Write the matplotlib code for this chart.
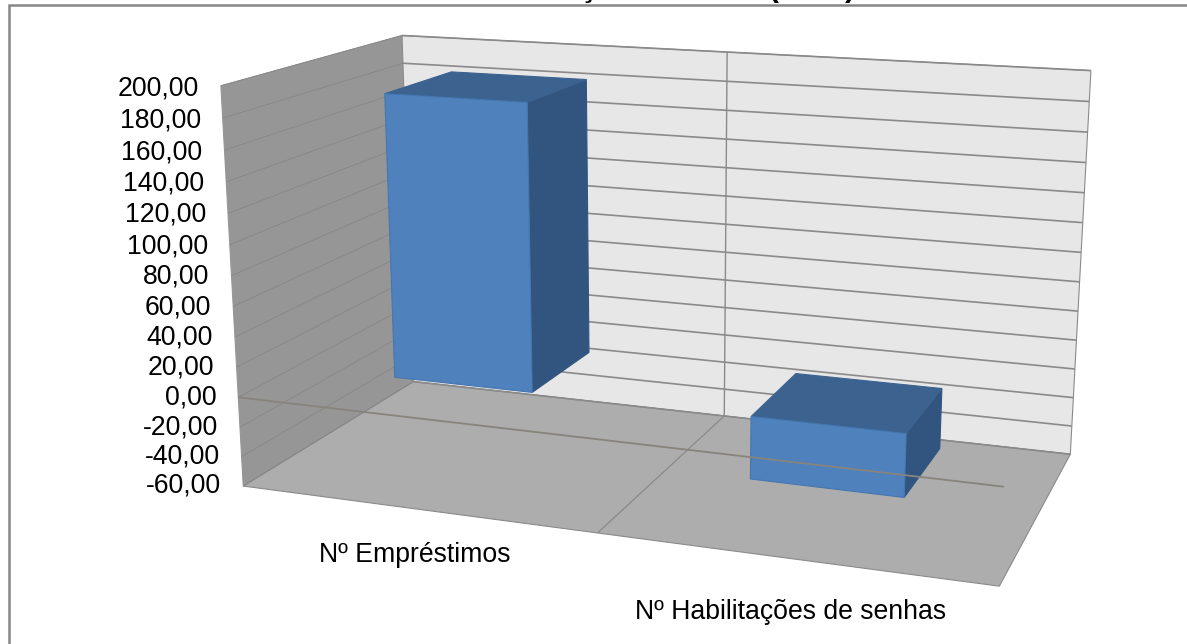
#!/usr/bin/env python3
# -*- coding: utf-8 -*-
"""Excel style 3D column chart, drawn through a fitted perspective projection."""

import numpy as np
import matplotlib
matplotlib.use("Agg")                     # headless backend
import matplotlib.pyplot as plt
from matplotlib.patches import Polygon

categories = ["Nº Empréstimos", "Nº Habilitações de senhas"]
values = [188.0, -41.0]
y_ticks = [200, 180, 160, 140, 120, 100, 80, 60, 40, 20, 0, -20, -40, -60]
y_min, y_max = -60, 200

WIDTH, HEIGHT = 1187, 644
BAR_FROM, BAR_TO = 0.3, 0.7               # 150% gap, across and in depth

# Reference box: corners (category pos, value, depth) and where they land on
# the canvas.  A 3x4 camera matrix is fitted to them, everything else is
# projected through it.
box_world = [(0, 200, 0), (0, 200, 1), (0, -60, 1), (0, -60, 0), (2, 200, 1),
             (2, -60, 1), (2, -60, 0), (1, 200, 1), (1, -60, 1)]
box_canvas = [(221, 86), (402, 35), (414, 382), (243, 486), (1091, 71),
              (1070.6, 454), (999.5, 586), (727, 52), (723.5, 416)]

GRID = "#8a8a8a"
WALL_SIDE = "#969696"
WALL_BACK = "#e7e7e7"
FLOOR = "#adadad"
BAR_FRONT = "#4f81bd"
BAR_TOP = "#3c6290"
BAR_SIDE = "#32557f"

plt.rcParams["font.family"] = ["Liberation Sans", "DejaVu Sans"]


def fit_camera(world, canvas):
    rows, rhs = [], []
    for (x, y, z), (u, v) in zip(world, canvas):
        y = y / 100
        rows.append([x, y, z, 1, 0, 0, 0, 0, -u * x, -u * y, -u * z])
        rows.append([0, 0, 0, 0, x, y, z, 1, -v * x, -v * y, -v * z])
        rhs += [u, v]
    p = np.linalg.lstsq(np.array(rows, float), np.array(rhs, float), rcond=None)[0]
    return np.append(p, 1).reshape(3, 4)


camera = fit_camera(box_world, box_canvas)


def proj(x, y, z):
    h = camera @ np.array([x, y / 100, z, 1.0])
    return h[:2] / h[2]


def face(ax, corners, color, edge=None, zorder=1):
    pts = [proj(*c) for c in corners]
    ax.add_patch(Polygon(pts, closed=True, facecolor=color,
                         edgecolor=edge or color, lw=0.8, zorder=zorder))


def segment(ax, a, b, color=GRID, lw=0.9, zorder=2):
    pa, pb = proj(*a), proj(*b)
    ax.plot([pa[0], pb[0]], [pa[1], pb[1]], color=color, lw=lw, zorder=zorder,
            solid_capstyle="butt")


def main():
    fig = plt.figure(figsize=(WIDTH / 100, HEIGHT / 100), dpi=100)
    ax = fig.add_axes([0, 0, 1, 1])
    ax.set_xlim(0, WIDTH)
    ax.set_ylim(HEIGHT, 0)
    ax.axis("off")

    n = len(categories)

    # walls and floor
    face(ax, [(0, y_min, 0), (0, y_max, 0), (0, y_max, 1), (0, y_min, 1)], WALL_SIDE)
    face(ax, [(0, y_min, 1), (0, y_max, 1), (n, y_max, 1), (n, y_min, 1)], WALL_BACK, GRID)
    face(ax, [(0, y_min, 0), (0, y_min, 1), (n, y_min, 1), (n, y_min, 0)], FLOOR, GRID, zorder=1.5)

    # gridlines on both walls, category divider on back wall and floor
    for t in y_ticks:
        segment(ax, (0, t, 0), (0, t, 1), color="#868686", lw=0.6)
        segment(ax, (0, t, 1), (n, t, 1), lw=1.2)
    for i in range(1, n):
        segment(ax, (i, y_min, 1), (i, y_max, 1), lw=1.0)
        segment(ax, (i, y_min, 0), (i, y_min, 1))

    # columns
    for i, v in enumerate(values):
        x0, x1 = i + BAR_FROM, i + BAR_TO
        z0, z1 = BAR_FROM, BAR_TO
        lo, hi = min(0, v), max(0, v)
        face(ax, [(x1, lo, z0), (x1, hi, z0), (x1, hi, z1), (x1, lo, z1)], BAR_SIDE, zorder=3)
        face(ax, [(x0, hi, z0), (x0, hi, z1), (x1, hi, z1), (x1, hi, z0)], BAR_TOP, zorder=3)
        face(ax, [(x0, lo, z0), (x0, hi, z0), (x1, hi, z0), (x1, lo, z0)], BAR_FRONT, "#4477b0", zorder=3.5)

    # the category axis runs at value 0, in front of everything
    segment(ax, (0, 0, 0), (n, 0, 0), color="#87847c", lw=1.3, zorder=5)

    # tick labels follow the front edge of the side wall
    for t in y_ticks:
        px, py = proj(0, t, 0)
        shift = np.interp(t, [y_min, y_max], [-0.5, 2.5])
        ax.text(px - 22, py + shift, f"{t:.2f}".replace(".", ","), ha="right",
                va="center", fontsize=19.2, color="black")

    ax.text(414.5, 554.5, categories[0], ha="center", va="center", fontsize=19.2, color="black")
    ax.text(791, 612, categories[1], ha="center", va="center", fontsize=19.2, color="black")

    # chart frame, only the left and top sides are inside the picture
    ax.plot([9.3, 9.3, WIDTH], [HEIGHT, 5, 5], color="#868686", lw=1.8, zorder=6,
            solid_joinstyle="miter")

    # title is cut by the picture's top edge, only these tails can be read
    for s, x in [("ç", 588), ("(", 773), (")", 850)]:
        ax.text(x, -3.5, s, ha="center", va="baseline", fontsize=21.6,
                fontweight="bold", color="black", clip_on=False)

    fig.savefig("out.png", dpi=100)
    plt.close(fig)


if __name__ == "__main__":
    main()
